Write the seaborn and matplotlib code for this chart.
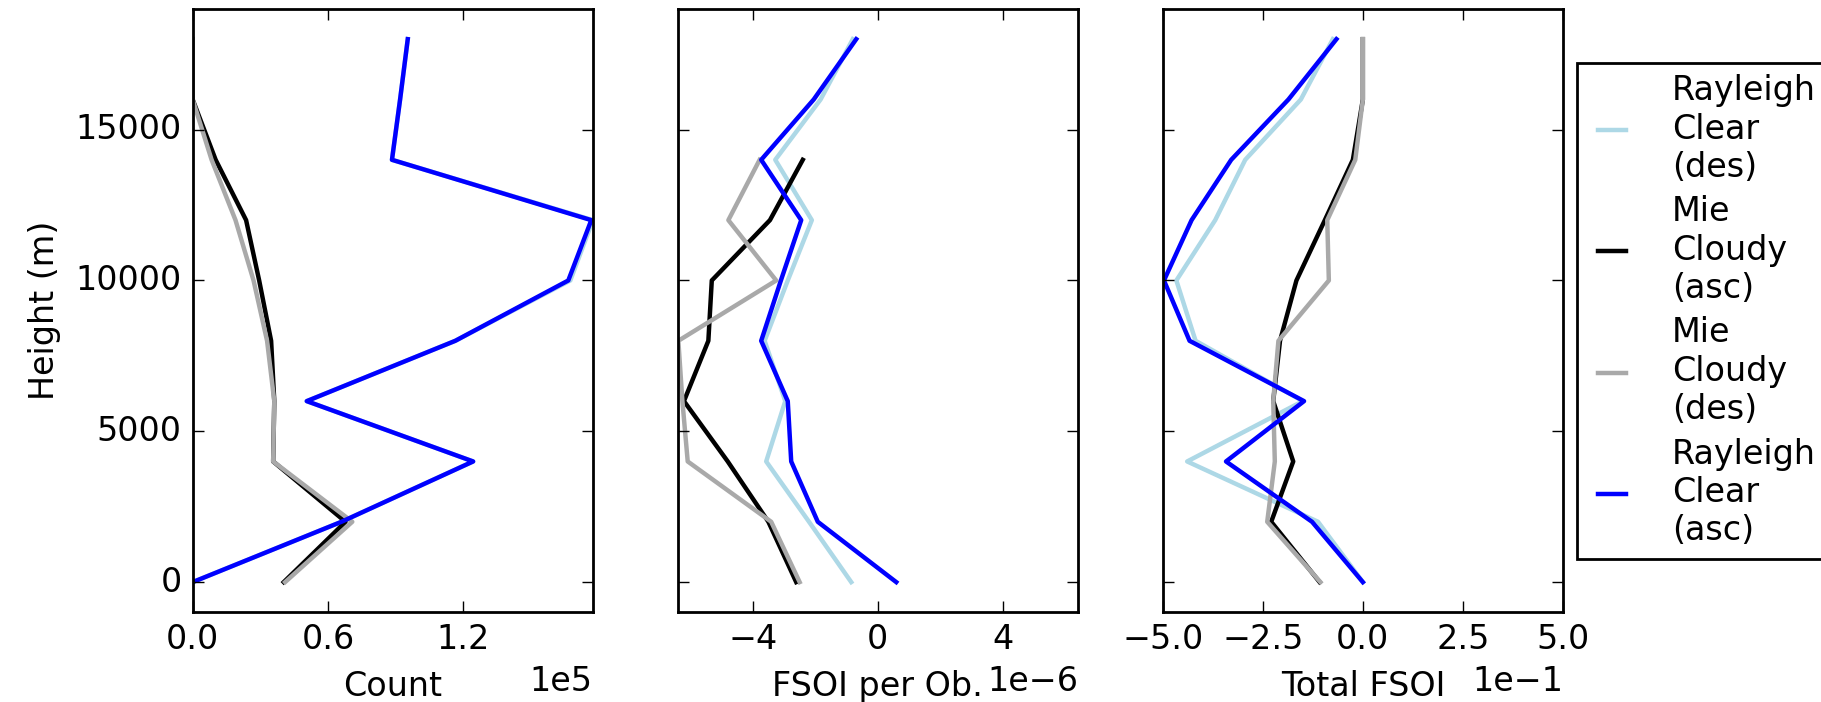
"""Vertical profiles of observation count and FSOI for Aeolus-like winds."""

import matplotlib

matplotlib.use("Agg")
import matplotlib.pyplot as plt
import numpy as np
import pandas as pd
import seaborn as sns

HEIGHTS = [0, 2000, 4000, 6000, 8000, 10000, 12000, 14000, 16000, 18000]
SERIES = [
    "Rayleigh\nClear\n(des)",
    "Mie\nCloudy\n(asc)",
    "Mie\nCloudy\n(des)",
    "Rayleigh\nClear\n(asc)",
]
COLORS = ["lightblue", "black", "darkgray", "blue"]

# observation counts per height bin
COUNT_RC_DES = [0, 66000, 124400, 50600, 116500, 167500, 177500, 88400, 92000, 95400]
COUNT_MC_ASC = [40400, 67800, 35700, 36200, 34800, 29500, 23700, 10200, 0, 0]
COUNT_MC_DES = [41000, 70800, 35700, 36200, 33000, 27000, 19000, 8400, 0, 0]
COUNT_RC_ASC = [0, 66000, 124400, 50600, 116500, 166600, 176800, 88400, 92000, 95400]

# FSOI per observation (units of 1e-6)
PEROB_RC_DES = [-0.85, -2.2, -3.57, -2.96, -3.62, -2.88, -2.11, -3.28, -1.83, -0.8]
PEROB_MC_ASC = [-2.61, -3.5, -4.8, -6.2, -5.42, -5.31, -3.45, -2.4, np.nan, np.nan]
PEROB_MC_DES = [-2.5, -3.41, -6.08, -6.25, -6.38, -3.25, -4.78, -3.78, np.nan, np.nan]
PEROB_RC_ASC = [0.59, -1.92, -2.77, -2.88, -3.73, -3.1, -2.45, -3.73, -2.05, -0.69]

# total FSOI (units of 1e-1)
TOTAL_RC_DES = [0.0, -1.12, -4.39, -1.5, -4.18, -4.66, -3.69, -2.94, -1.55, -0.75]
TOTAL_MC_ASC = [-1.08, -2.29, -1.74, -2.24, -2.07, -1.66, -0.95, -0.25, 0.0, 0.0]
TOTAL_MC_DES = [-1.06, -2.39, -2.2, -2.24, -2.11, -0.85, -0.89, -0.19, 0.0, 0.0]
TOTAL_RC_ASC = [0.0, -1.27, -3.42, -1.47, -4.33, -4.97, -4.28, -3.29, -1.86, -0.66]


def long_frame(columns, scale=1.0):
    rows = []
    for name, values in zip(SERIES, columns):
        for height, value in zip(HEIGHTS, values):
            rows.append((name, height, value * scale))
    return pd.DataFrame(rows, columns=["series", "height", "value"]).dropna()


def main():
    plt.style.use("classic")
    plt.rcParams["figure.facecolor"] = "white"
    plt.rcParams["savefig.facecolor"] = "white"
    plt.rcParams["font.family"] = ["DejaVu Sans"]

    panels = [
        (long_frame([COUNT_RC_DES, COUNT_MC_ASC, COUNT_MC_DES, COUNT_RC_ASC]),
         "Count", (0, 177500), [0, 60000, 120000]),
        (long_frame([PEROB_RC_DES, PEROB_MC_ASC, PEROB_MC_DES, PEROB_RC_ASC], 1e-6),
         "FSOI per Ob.", (-6.4e-6, 6.4e-6), [-4e-6, 0, 4e-6]),
        (long_frame([TOTAL_RC_DES, TOTAL_MC_ASC, TOTAL_MC_DES, TOTAL_RC_ASC], 1e-1),
         "Total FSOI", (-0.5, 0.5), [-0.5, -0.25, 0, 0.25, 0.5]),
    ]

    fig, axes = plt.subplots(1, 3, sharey=True, figsize=(9.105, 3.51), dpi=200)
    fig.subplots_adjust(left=0.1058, right=0.8583, bottom=0.1278, top=0.9872, wspace=0.212)

    for ax, (df, xlabel, xlim, xticks) in zip(axes, panels):
        sns.lineplot(
            data=df, x="value", y="height", hue="series", hue_order=SERIES,
            palette=COLORS, orient="y", estimator=None, errorbar=None,
            linewidth=1.6, legend=False, ax=ax,
        )
        ax.set_xlim(*xlim)
        ax.set_xticks(xticks)
        ax.ticklabel_format(axis="x", style="sci", scilimits=(0, 0))
        ax.set_xlabel(xlabel)
        ax.set_ylabel("")

    axes[0].set_ylim(-1000, 19000)
    axes[0].set_yticks([0, 5000, 10000, 15000])
    axes[0].set_ylabel("Height (m)")

    axes[2].legend(
        axes[2].get_lines()[:4], SERIES, loc="center left", bbox_to_anchor=(1, 0.5),
        fontsize=12, handlelength=1.44, handletextpad=1.06, borderpad=0.35,
        labelspacing=0.35, borderaxespad=0.41, frameon=True, fancybox=False,
    )

    fig.savefig("out.png", dpi=200)


if __name__ == "__main__":
    main()
